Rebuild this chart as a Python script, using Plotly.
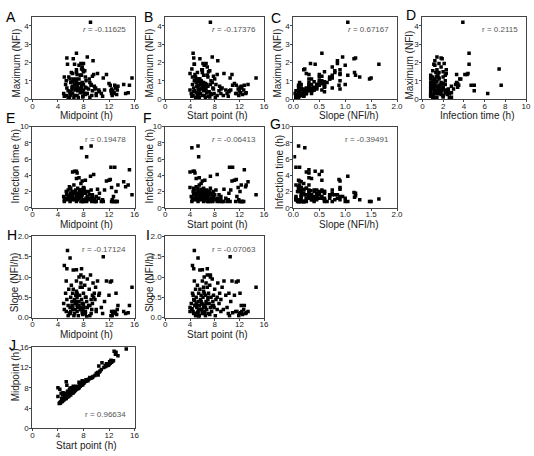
import plotly.graph_objects as go

# ---------------- data (one entry per cell) ----------------
# special / outlier cells
start_S = [7.3, 4.3, 5.3, 5.4, 14.7, 12.8, 13.4, 13.0, 13.1, 4.7, 5.3, 10.5, 4.4, 4.6, 5.6, 6.0, 6.8, 7.3]
mid_S = [9.1, 7.7, 9.2, 8.5, 15.6, 15.2, 14.3, 14.6, 15.0, 5.5, 5.9, 11.1, 5.0, 5.4, 6.4, 6.9, 7.7, 8.0]
slope_S = [1.05, 0.22, 0.10, 0.02, 0.75, 0.30, 0.15, 0.10, 0.12, 1.65, 1.47, 1.50, 1.28, 1.20, 1.17, 1.18, 1.20, 1.00]
max_S = [4.2, 1.65, 0.75, 0.30, 1.15, 0.75, 0.80, 0.30, 0.35, 1.90, 1.10, 1.15, 1.20, 2.25, 2.20, 1.45, 1.30, 0.80]
inf_S = [3.9, 7.4, 7.6, 6.3, 1.6, 4.7, 3.2, 2.6, 2.8, 1.1, 0.8, 0.8, 1.0, 1.8, 1.9, 1.3, 1.5, 0.8]

# cells with long infection time
start_H = [4.0, 4.5, 4.7, 4.8, 5.0, 5.5, 6.0, 8.4, 6.4, 5.8]
mid_H = [6.3, 6.9, 6.6, 7.0, 6.9, 7.3, 7.8, 9.6, 8.3, 7.6]
slope_H = [0.25, 0.55, 0.42, 0.30, 0.35, 0.30, 0.12, 0.50, 0.10, 0.20]
max_H = [1.4, 2.5, 1.9, 1.35, 1.1, 1.1, 0.9, 1.35, 0.65, 0.55]
inf_H = [4.4, 4.5, 4.5, 4.3, 3.6, 3.7, 3.3, 4.1, 3.4, 3.0]

# late cells
start_L = [9.5, 9.8, 10.0, 10.2, 10.3, 10.8, 10.4, 10.9, 11.5, 11.8, 12.0, 12.2, 12.4, 12.5, 12.7,
           11.9, 12.3, 11.2, 11.6, 9.2, 9.0, 9.4, 10.6, 12.1, 11.4]
mid_L = [10.2, 10.4, 10.8, 11.0, 10.5, 11.6, 12.3, 12.9, 12.2, 12.4, 12.6, 12.8, 13.0, 13.2, 13.3,
         12.5, 13.4, 12.0, 12.7, 9.9, 9.8, 10.0, 11.3, 13.1, 12.4]
slope_L = [0.90, 0.55, 0.25, 0.10, 0.60, 0.90, 0.05, 0.12, 0.88, 0.90, 0.10, 0.12, 0.15, 0.08, 0.20,
           0.05, 0.30, 0.55, 0.15, 0.75, 0.45, 0.20, 0.40, 0.60, 0.15]
max_L = [1.4, 0.5, 0.3, 0.15, 0.4, 1.35, 0.45, 0.75, 0.75, 0.55, 0.45, 0.35, 0.6, 0.25, 0.5,
         0.2, 0.7, 0.85, 0.3, 0.6, 0.55, 0.2, 0.5, 0.65, 0.3]
inf_L = [2.3, 1.2, 0.8, 1.0, 1.8, 3.3, 5.0, 5.0, 3.5, 2.5, 0.8, 0.8, 0.8, 0.8, 0.8,
         1.0, 2.8, 3.4, 1.4, 0.8, 1.0, 0.8, 2.2, 2.0, 0.8]

# main population
start_M = [4.2, 4.3, 4.4, 4.5, 4.6, 4.7, 4.8, 4.9, 5.0, 5.0, 5.1, 5.2, 5.3, 5.3, 5.4, 5.5, 5.5, 5.6, 5.7, 5.7,
           5.8, 5.9, 6.0, 6.0, 6.1, 6.2, 6.2, 6.3, 6.4, 6.4, 6.5, 6.6, 6.6, 6.7, 6.8, 6.9, 7.0, 7.0, 7.1, 7.2,
           7.3, 7.4, 7.5, 7.6, 7.7, 7.8, 8.0, 8.1, 8.2, 8.4, 8.5, 8.7, 8.8, 9.0, 4.0,
           4.9, 6.5, 7.2, 5.2, 6.3, 7.9, 6.8, 5.9, 6.1, 5.1, 5.8, 6.5, 6.7, 5.4, 6.9, 7.6, 4.6, 6.2, 7.8]
mid_M = [4.9, 5.0, 5.2, 5.3, 5.4, 5.3, 5.6, 5.7, 5.8, 6.0, 5.9, 6.1, 6.2, 6.0, 6.3, 6.2, 6.5, 6.4, 6.6, 6.3,
         6.8, 6.7, 6.9, 6.6, 7.0, 7.1, 6.9, 7.3, 7.2, 7.0, 7.4, 7.6, 7.3, 7.5, 7.8, 7.7, 7.9, 8.0, 7.8, 8.2,
         8.1, 8.4, 8.3, 8.6, 8.5, 8.8, 8.9, 9.0, 9.2, 9.3, 9.5, 9.4, 9.7, 10.0, 8.0,
         5.6, 7.2, 7.9, 5.9, 7.0, 8.6, 7.6, 7.9, 8.0, 6.3, 6.9, 7.6, 7.9, 6.7, 8.3, 9.0, 5.9, 7.5, 9.4]
slope_M = [0.35, 0.2, 0.6, 0.15, 0.45, 0.9, 0.3, 0.7, 0.1, 0.5, 0.25, 0.8, 0.4, 0.15, 0.6, 0.3, 0.05, 0.7, 0.45, 0.2,
           0.55, 0.35, 0.9, 0.1, 0.5, 0.25, 0.65, 1.0, 0.3, 0.15, 0.55, 0.85, 0.4, 0.2, 0.75, 0.45, 0.1, 0.6, 0.35, 0.8,
           0.25, 0.5, 0.15, 0.95, 0.4, 0.3, 0.7, 0.05, 0.45, 0.2, 0.85, 0.35, 0.6, 0.15, 0.15,
           0.05, 0.05, 0.08, 0.12, 0.6, 0.25, 1.05, 0.2, 0.33, 0.3, 0.4, 0.25, 0.35, 0.2, 0.5, 0.3, 0.1, 0.75, 0.55]
max_M = [0.3, 0.15, 0.8, 0.2, 0.6, 1.0, 0.45, 1.2, 0.1, 0.9, 0.35, 1.45, 0.65, 0.25, 0.95, 0.5, 0.1, 1.1, 0.8, 0.3,
         1.0, 0.6, 1.6, 0.2, 0.75, 0.45, 0.9, 1.85, 0.55, 0.2, 0.85, 1.95, 0.5, 0.35, 1.75, 0.7, 0.15, 1.5, 0.4, 1.55,
         0.3, 1.0, 0.25, 2.3, 0.6, 0.55, 1.1, 0.1, 0.8, 0.2, 2.1, 0.45, 0.7, 0.3, 0.5,
         0.05, 0.08, 0.12, 0.2, 0.7, 0.3, 1.3, 1.6, 1.95, 0.7, 0.95, 0.6, 0.8, 0.5, 1.2, 0.9, 0.4, 1.3, 1.25]
inf_M = [1.4, 0.8, 1.2, 2.0, 1.6, 1.0, 2.2, 1.4, 2.6, 1.8, 1.2, 1.6, 2.0, 2.4, 1.0, 1.4, 2.8, 1.2, 1.8, 1.6,
         2.2, 1.0, 1.4, 2.0, 1.6, 2.4, 0.8, 1.2, 1.8, 1.0, 2.0, 1.6, 1.2, 2.2, 1.8, 1.4, 0.8, 2.0, 1.6, 1.0,
         2.4, 1.2, 1.8, 1.4, 0.8, 2.0, 1.6, 1.0, 2.2, 0.8, 1.2, 1.6, 0.8, 1.4, 2.5,
         1.2, 1.4, 2.0, 1.0, 1.0, 1.2, 0.8, 2.3, 2.1, 1.2, 1.4, 1.6, 1.0, 1.8, 2.0, 1.2, 2.4, 2.2, 1.4]

start = start_S + start_H + start_L + start_M
midpoint = mid_S + mid_H + mid_L + mid_M
slope = slope_S + slope_H + slope_L + slope_M
maximum = max_S + max_H + max_L + max_M
infection = inf_S + inf_H + inf_L + inf_M

# correlation labels
r_labels = {"A": "-0.11625", "B": "-0.17376", "C": "0.67167", "D": "0.2115", "E": "0.19478",
            "F": "-0.06413", "G": "-0.39491", "H": "-0.17124", "I": "-0.07063", "J": "0.96634"}

# axis ticks
t_hours = [0, 4, 8, 12, 16]
t_slope = [0, 0.5, 1.0, 1.5, 2.0]
t_slope_txt = ["0.0", "0.5", "1.0", "1.5", "2.0"]
t_max = [0, 1, 2, 3, 4]
t_inf = [0, 2, 4, 6, 8, 10]

variables = {
    "mid": (midpoint, "Midpoint (h)", [0, 16], t_hours, None),
    "start": (start, "Start point (h)", [0, 16], t_hours, None),
    "slope": (slope, "Slope (NFI/h)", [0, 2], t_slope, t_slope_txt),
    "max": (maximum, "Maximum (NFI)", [0, 4.5], t_max, None),
    "inf": (infection, "Infection time (h)", [0, 10], t_inf, None),
}

# panel: letter, row, col, x variable, y variable
panels = [
    ("A", 0, 0, "mid", "max"), ("B", 0, 1, "start", "max"), ("C", 0, 2, "slope", "max"),
    ("D", 0, 3, "inf", "max"), ("E", 1, 0, "mid", "inf"), ("F", 1, 1, "start", "inf"),
    ("G", 1, 2, "slope", "inf"), ("H", 2, 0, "mid", "slope"), ("I", 2, 1, "start", "slope"),
    ("J", 3, 0, "start", "mid"),
]

# ---------------- layout geometry (pixels) ----------------
W, Hh = 534, 456
cols_px = [(27, 131.5), (163, 264), (294, 400), (426, 532)]
rows_px = [(13, 97), (125, 208), (237, 320), (350, 433)]
letter_pos = {"A": (5, 13), "B": (146, 13), "C": (276, 14), "D": (414, 11), "E": (5, 116),
              "F": (145, 116), "G": (276, 122), "H": (6, 236), "I": (145, 236), "J": (7, 348)}
ytitle_x = {"A": 11, "B": 147, "C": 278, "D": 413, "E": 10, "F": 147, "G": 280, "H": 9, "I": 147, "J": 10}
ytitle_y = {"A": 60, "B": 60, "C": 60, "D": 62, "E": 166, "F": 166, "G": 172,
            "H": 284, "I": 284, "J": 378}

def fx(px):
    return px / W

def fy(py):
    return 1 - py / Hh

FONT = "Liberation Sans, Arial, sans-serif"
fig = go.Figure()
annotations = []
layout = dict(width=W, height=Hh, margin=dict(l=0, r=0, t=0, b=0),
              paper_bgcolor="white", plot_bgcolor="white", showlegend=False,
              font=dict(family=FONT, size=9, color="#222"))

for i, (letter, r, c, xv, yv) in enumerate(panels, start=1):
    xs, xtitle, xr, xt, xtt = variables[xv]
    ys, ytitle, yr, yt, ytt = variables[yv]
    x0, x1 = cols_px[c]
    y0, y1 = rows_px[r]
    sfx = "" if i == 1 else str(i)
    fig.add_trace(go.Scatter(x=xs, y=ys, mode="markers", xaxis="x" + sfx, yaxis="y" + sfx,
                             marker=dict(symbol="square", size=3.5, color="black", line=dict(width=0))))
    common = dict(showline=True, linecolor="#444", linewidth=1, mirror=True, showgrid=False,
                  zeroline=False, ticks="outside", ticklen=2, tickwidth=1, tickcolor="#444",
                  tickfont=dict(family=FONT, size=8, color="#222"), fixedrange=True)
    xa = dict(common, domain=[fx(x0), fx(x1)], range=xr, tickvals=xt, anchor="y" + sfx,
              ticklabelstandoff=-3)
    if xtt:
        xa["ticktext"] = xtt
    ya = dict(common, domain=[fy(y1), fy(y0)], range=yr, tickvals=yt, anchor="x" + sfx,
              ticklabelstandoff=-1)
    if ytt:
        ya["ticktext"] = ytt
    layout["xaxis" + sfx] = xa
    layout["yaxis" + sfx] = ya

    # axis titles
    annotations.append(dict(text=xtitle, xref="paper", yref="paper", x=fx((x0 + x1) / 2 + 3), y=fy(y1 + 17),
                            showarrow=False, xanchor="center", yanchor="middle",
                            font=dict(family=FONT, size=10, color="#222")))
    annotations.append(dict(text=ytitle, xref="paper", yref="paper", x=fx(ytitle_x[letter]),
                            y=fy(ytitle_y[letter]), showarrow=False, textangle=-90,
                            xanchor="center", yanchor="middle",
                            font=dict(family=FONT, size=10, color="#222")))
    # panel letter
    lx, ly = letter_pos[letter]
    annotations.append(dict(text=letter, xref="paper", yref="paper", x=fx(lx), y=fy(ly),
                            showarrow=False, xanchor="center", yanchor="middle",
                            font=dict(family=FONT, size=14, color="black")))
    # r value
    italic = letter in ("A", "B", "C", "F")
    rtxt = ("<i>r</i>" if italic else "r") + " = " + r_labels[letter]
    annotations.append(dict(text=rtxt, xref="x" + sfx + " domain", yref="y" + sfx + " domain",
                            x=0.94, y=(0.17 if letter == "J" else 0.84), showarrow=False,
                            xanchor="right", yanchor="middle",
                            font=dict(family=FONT, size=8, color="#555")))

layout["annotations"] = annotations
fig.update_layout(**layout)
fig.write_html("out.html")
